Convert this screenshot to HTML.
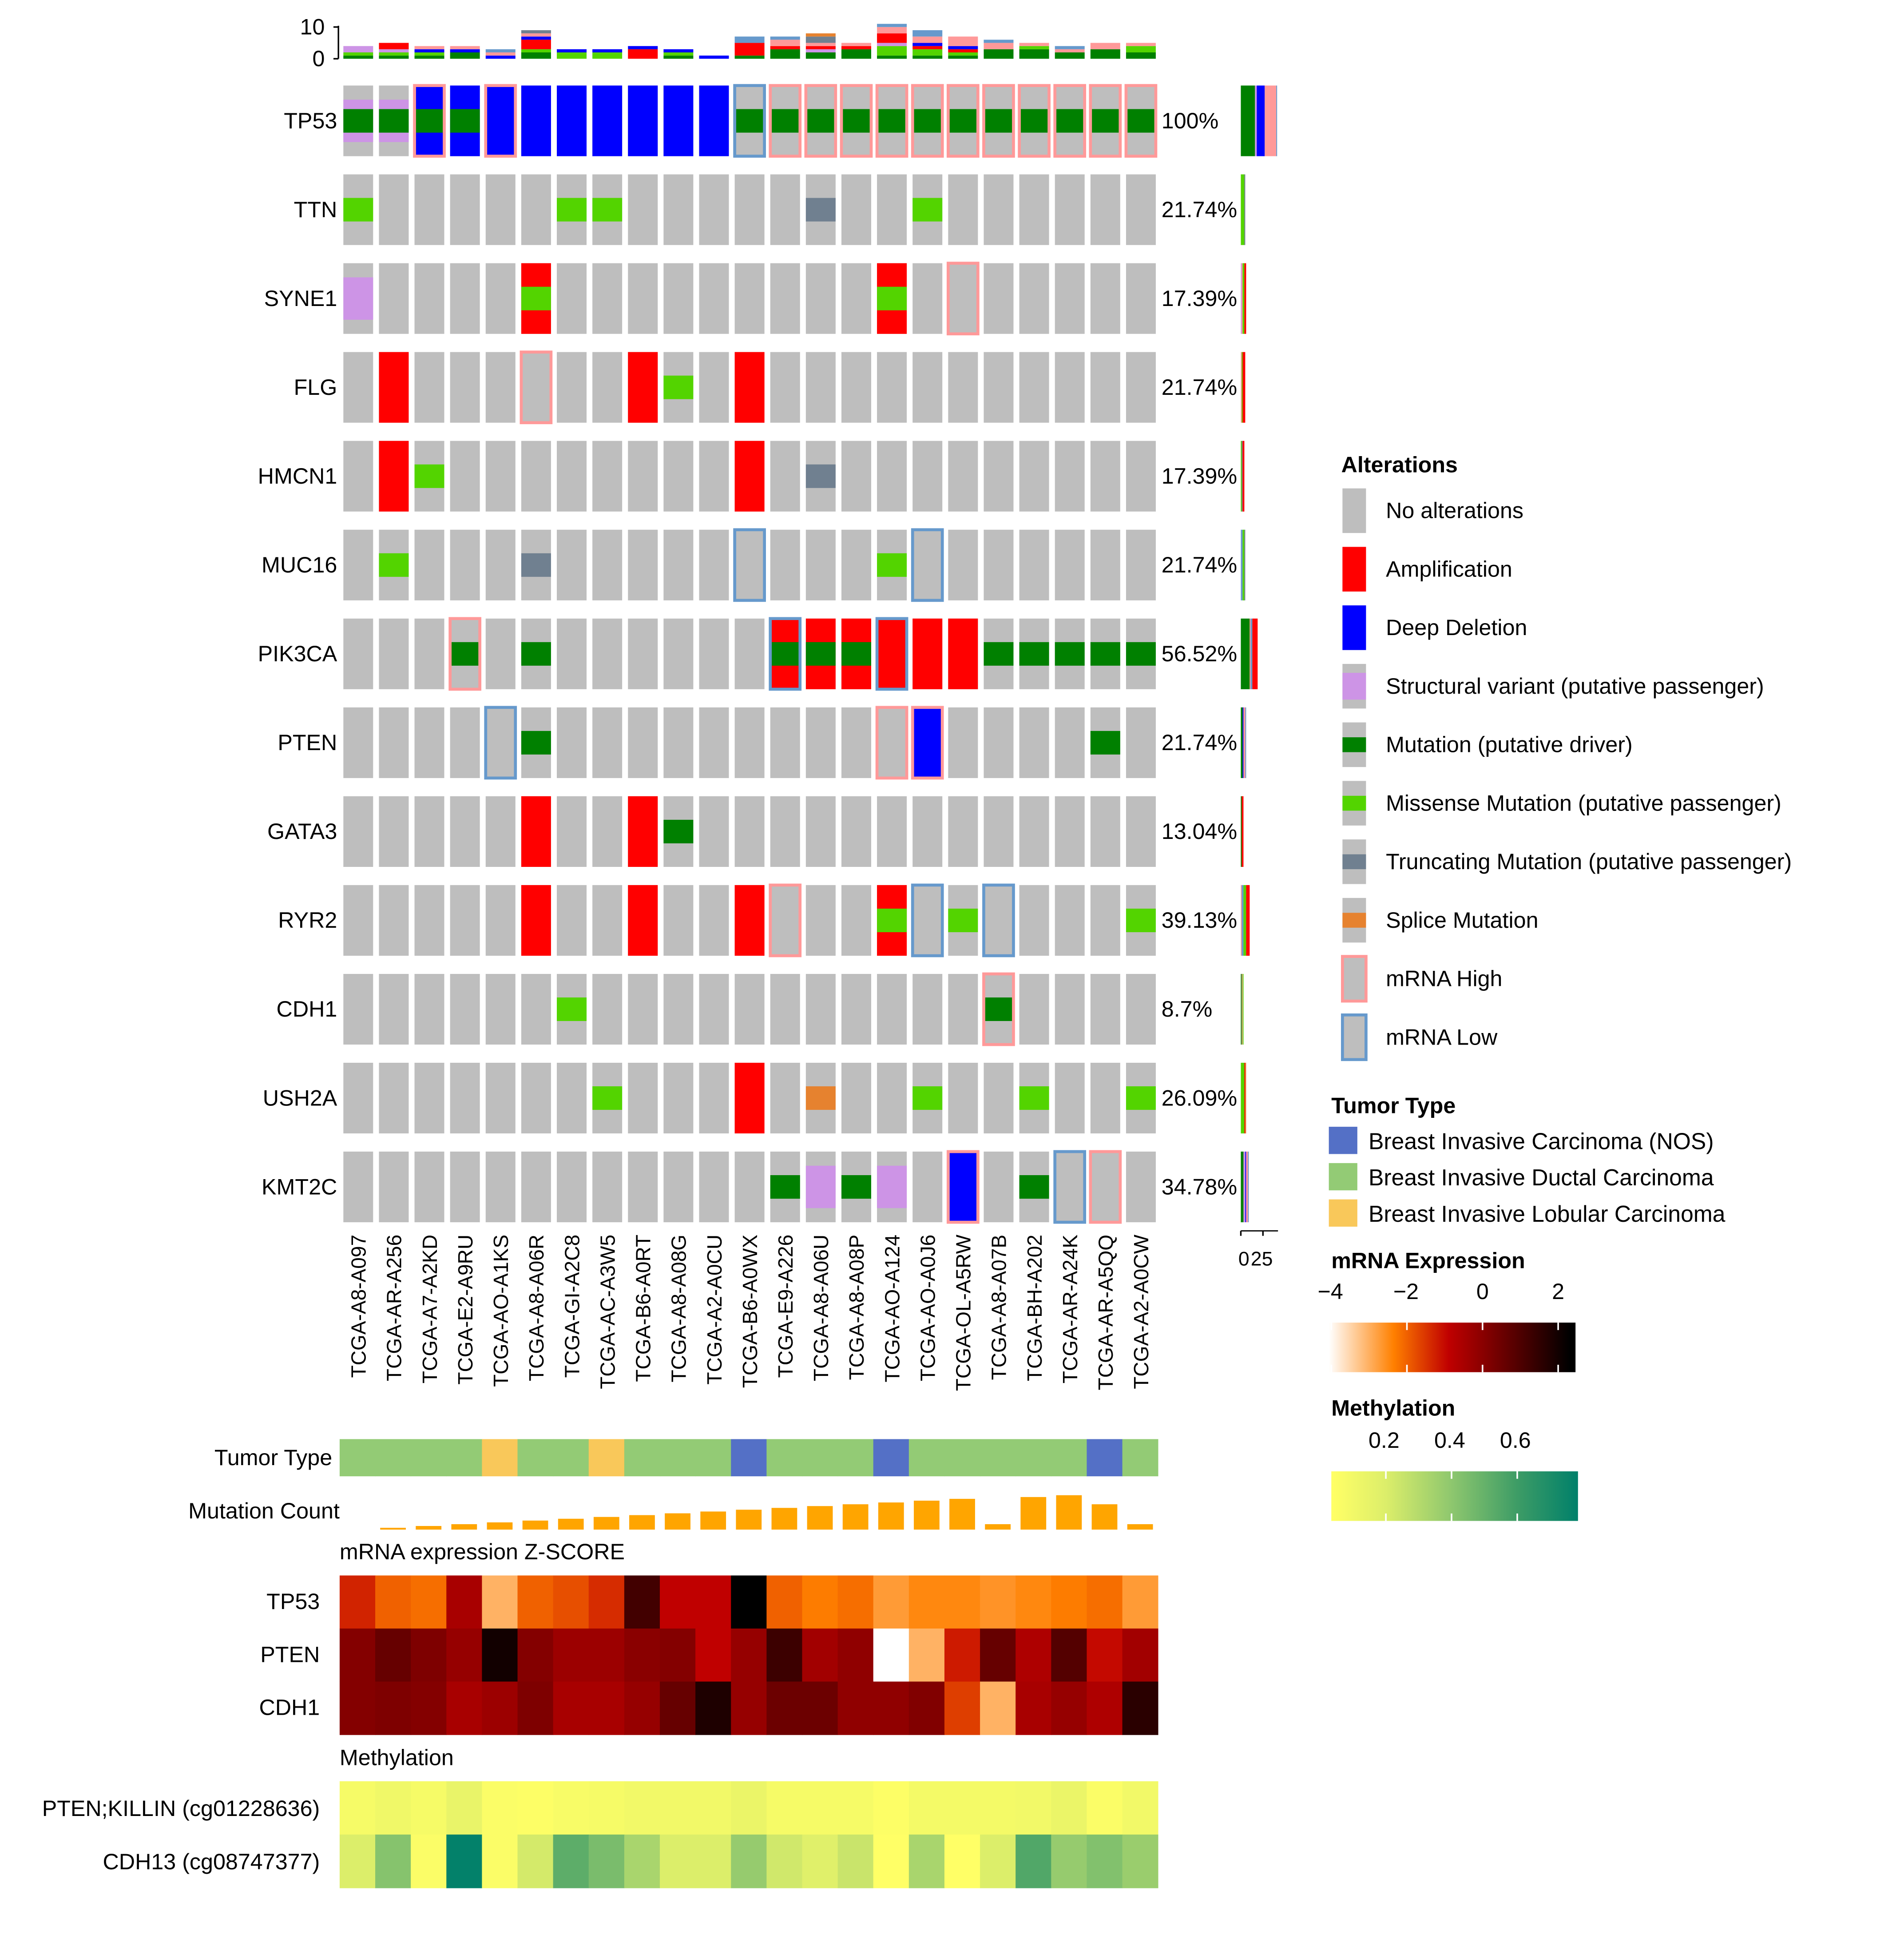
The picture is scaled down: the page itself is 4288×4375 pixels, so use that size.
<!DOCTYPE html>
<html><head><meta charset="utf-8"><style>
html,body{margin:0;padding:0;background:#fff}
svg{display:block}
text{font-family:"Liberation Sans",sans-serif;fill:#000}
</style></head><body>
<svg id="chart" xmlns="http://www.w3.org/2000/svg" width="4288" height="4375" viewBox="0 0 1536 1567.5" preserveAspectRatio="none">
<g id="topbars"></g><g id="gridg"></g><g id="rightbars"></g><g id="samplesg"></g><g id="tracksg"></g><g id="legendg"></g>
</svg>
<script>
const samples=["TCGA-A8-A097","TCGA-AR-A256","TCGA-A7-A2KD","TCGA-E2-A9RU","TCGA-AO-A1KS","TCGA-A8-A06R","TCGA-GI-A2C8","TCGA-AC-A3W5","TCGA-B6-A0RT","TCGA-A8-A08G","TCGA-A2-A0CU","TCGA-B6-A0WX","TCGA-E9-A226","TCGA-A8-A06U","TCGA-A8-A08P","TCGA-AO-A124","TCGA-AO-A0J6","TCGA-OL-A5RW","TCGA-A8-A07B","TCGA-BH-A202","TCGA-AR-A24K","TCGA-AR-A5QQ","TCGA-A2-A0CW"];
const genes=["TP53","TTN","SYNE1","FLG","HMCN1","MUC16","PIK3CA","PTEN","GATA3","RYR2","CDH1","USH2A","KMT2C"];
const percents=["100%","21.74%","17.39%","21.74%","17.39%","21.74%","56.52%","21.74%","13.04%","39.13%","8.7%","26.09%","34.78%"];
const alterations=[
["sv+mut","sv+mut","del+mut+high","del+mut","del+high","del","del","del","del","del","del","mut+low","mut+high","mut+high","mut+high","mut+high","mut+high","mut+high","mut+high","mut+high","mut+high","mut+high","mut+high"],
["miss","","","","","","miss","miss","","","","","","trunc","","","miss","","","","","",""],
["sv","","","","","amp+miss","","","","","","","","","","amp+miss","","high","","","","",""],
["","amp","","","","high","","","amp","miss","","amp","","","","","","","","","","",""],
["","amp","miss","","","","","","","","","amp","","trunc","","","","","","","","",""],
["","miss","","","","trunc","","","","","","low","","","","miss","low","","","","","",""],
["","","","mut+high","","mut","","","","","","","amp+mut+low","amp+mut","amp+mut","amp+low","amp","amp","mut","mut","mut","mut","mut"],
["","","","","low","mut","","","","","","","","","","high","del+high","","","","","mut",""],
["","","","","","amp","","","amp","mut","","","","","","","","","","","","",""],
["","","","","","amp","","","amp","","","amp","high","","","amp+miss","low","miss","low","","","","miss"],
["","","","","","","miss","","","","","","","","","","","","mut+high","","","",""],
["","","","","","","","miss","","","","amp","","splice","","","miss","","","miss","","","miss"],
["","","","","","","","","","","","","mut","sv","mut","sv","","del+high","","mut","low","high",""]];
const tumorType=["D","D","D","D","L","D","D","L","D","D","D","N","D","D","D","N","D","D","D","D","D","N","D"];
const mutationCount=[0,1,2,3,4,5,6,7,8,9,10,11,12,13,14,15,16,17,3,18,19,14,3];
const mrnaGenes=["TP53","PTEN","CDH1"];
const mrnaTP53=[-1.3,-2.0,-2.15,-0.5,-3.0,-2.0,-1.8,-1.4,1.2,-0.9,-0.9,2.5,-2.0,-2.3,-2.15,-2.7,-2.45,-2.45,-2.6,-2.45,-2.3,-2.15,-2.7];
const mrnaPTEN=[0.1,0.6,0.2,-0.2,2.0,0.1,-0.3,-0.3,0,0.1,-0.9,-0.2,1.3,-0.4,-0.1,-4,-3.0,-1.2,0.6,-0.6,0.9,-1.0,-0.4];
const mrnaCDH1=[0.1,0.2,0.1,-0.5,-0.3,0.2,-0.5,-0.5,-0.2,0.6,1.8,-0.2,0.5,0.5,-0.1,-0.1,0.15,-1.6,-3.0,-0.5,-0.2,-0.6,1.6];
const methLabels=["PTEN;KILLIN (cg01228636)","CDH13 (cg08747377)"];
const methPTEN=[0.08,0.11,0.08,0.14,0.06,0.05,0.07,0.08,0.1,0.1,0.1,0.13,0.08,0.08,0.08,0.05,0.09,0.09,0.09,0.1,0.13,0.06,0.1];
const methCDH13=[0.2,0.42,0.06,0.78,0.06,0.22,0.52,0.45,0.33,0.2,0.2,0.38,0.23,0.18,0.25,0.04,0.33,0.04,0.2,0.55,0.38,0.43,0.37];

const NS="http://www.w3.org/2000/svg";
const C={none:"#bebebe",amp:"#ff0000",del:"#0000ff",sv:"#cd94e6",mut:"#008000",miss:"#53d400",trunc:"#708090",splice:"#e6822f",high:"#ff9999",low:"#6699cc"};
const TC={N:"#5470c6",D:"#93cb75",L:"#f9c85a"};
function el(tag,attrs,parent,txt){const e=document.createElementNS(NS,tag);for(const k in attrs)e.setAttribute(k,attrs[k]);if(txt!==undefined)e.textContent=txt;parent.appendChild(e);return e;}
const colX=i=>277+i*28.7, cellW=24;
const rowY=r=>69+r*71.67, cellH=57;
const hmX=i=>274+i*28.7, hmW=28.7;
function hex(h){return [1,3,5].map(i=>parseInt(h.substr(i,2),16));}
function interp(stops,v){if(v<=stops[0][0])return stops[0][1];for(let i=1;i<stops.length;i++){if(v<=stops[i][0]){const a=hex(stops[i-1][1]),b=hex(stops[i][1]),t=(v-stops[i-1][0])/(stops[i][0]-stops[i-1][0]);return "rgb("+a.map((x,j)=>Math.round(x+(b[j]-x)*t)).join(",")+")";}}return stops[stops.length-1][1];}
const mrnaStops=[[-4,"#ffffff"],[-2.35,"#ff8000"],[-0.9,"#c00000"],[2.3,"#000000"]];
const methStops=[[0.04,"#ffff66"],[0.2,"#dcee6a"],[0.4,"#8ec76e"],[0.6,"#3d9c66"],[0.79,"#00806a"]];

function drawCell(g,x,y,w,h,types){
  el("rect",{x:x,y:y,width:w,height:h,fill:C.none},g);
  if(types.includes("amp"))el("rect",{x:x,y:y,width:w,height:h,fill:C.amp},g);
  if(types.includes("del"))el("rect",{x:x,y:y,width:w,height:h,fill:C.del},g);
  if(types.includes("sv"))el("rect",{x:x,y:y+h*0.2,width:w,height:h*0.6,fill:C.sv},g);
  ["mut","miss","trunc","splice"].forEach(t=>{if(types.includes(t))el("rect",{x:x,y:y+h/3,width:w,height:h/3,fill:C[t]},g);});
  if(types.includes("high"))el("rect",{x:x,y:y,width:w,height:h,fill:"none",stroke:C.high,"stroke-width":2.4},g);
  if(types.includes("low"))el("rect",{x:x,y:y,width:w,height:h,fill:"none",stroke:C.low,"stroke-width":2.4},g);
}

const gridG=document.getElementById("gridg");
genes.forEach((gname,r)=>{
  const gl=el("text",{x:272,y:rowY(r)+cellH/2+6,"text-anchor":"end","font-size":18},gridG,gname);
  
  
  const pl=el("text",{x:937,y:rowY(r)+cellH/2+6,"font-size":18},gridG,percents[r]);
  
  
  alterations[r].forEach((a,i)=>{
    const g=el("g",{},gridG);
    
    
    drawCell(g,colX(i),rowY(r),cellW,cellH,a?a.split("+"):[]);
  });
});

const topG=document.getElementById("topbars");
const topOrder=["mut","miss","sv","amp","del","high","low","trunc","splice"];
const unitTop=2.56, baseTop=47.4;
el("line",{x1:273,y1:20.8,x2:273,y2:baseTop,stroke:"#000","stroke-width":1.2},topG);
[0,10].forEach(v=>{const y=baseTop-v*unitTop;el("line",{x1:269,y1:y,x2:273,y2:y,stroke:"#000","stroke-width":1.2},topG);
  const t=el("text",{x:262,y:y+6,"text-anchor":"end","font-size":18},topG,String(v));
  
  });
samples.forEach((s,i)=>{
  const cnt={};topOrder.forEach(t=>cnt[t]=0);
  alterations.forEach(row=>{(row[i]?row[i].split("+"):[]).forEach(t=>cnt[t]++);});
  let y=baseTop;
  topOrder.forEach(t=>{if(cnt[t]){const h=cnt[t]*unitTop;y-=h;
    const b=el("rect",{x:colX(i),y:y,width:cellW,height:h,fill:C[t]},topG);
    
    }});
});

const rightG=document.getElementById("rightbars");
const rightOrder=["mut","sv","del","high","low","miss","trunc","amp","splice"];
const unitR=0.714, rx0=1001;
genes.forEach((gname,r)=>{
  const cnt={};rightOrder.forEach(t=>cnt[t]=0);
  alterations[r].forEach(a=>(a?a.split("+"):[]).forEach(t=>cnt[t]++));
  let x=rx0;
  rightOrder.forEach(t=>{if(cnt[t]){const w=cnt[t]*unitR;
    const b=el("rect",{x:x,y:rowY(r),width:w,height:cellH,fill:C[t]},rightG);
    
    x+=w;}});
});
el("line",{x1:rx0,y1:993,x2:1031,y2:993,stroke:"#000","stroke-width":1},rightG);
[0,25].forEach(v=>{const x=rx0+v*unitR;el("line",{x1:x,y1:993,x2:x,y2:997,stroke:"#000","stroke-width":1.2},rightG);});
const r0=el("text",{x:999,y:1021,"font-size":16},rightG,"0");
const r25=el("text",{x:1009,y:1021,"font-size":16},rightG,"25");

const sampG=document.getElementById("samplesg");
samples.forEach((s,i)=>{const cx=colX(i)+cellW/2+6;
  const t=el("text",{x:0,y:0,"font-size":16.5,"text-anchor":"end",transform:`translate(${cx},996) rotate(-90)`},sampG,s);
  
  });

const trG=document.getElementById("tracksg");
function label(x,y,txt,anchor,name){const t=el("text",{x:x,y:y,"font-size":18,"text-anchor":anchor},trG,txt);}
label(268,1182,"Tumor Type","end","tumor-type-label");
tumorType.forEach((t,i)=>{const r=el("rect",{x:hmX(i),y:1161,width:hmW+0.3,height:30,fill:TC[t]},trG);
  });
label(274,1225,"Mutation Count","end","mutation-count-label");
const mcBase=1234, mcUnit=1.46;
mutationCount.forEach((v,i)=>{if(v>0){const h=v*mcUnit;const r=el("rect",{x:hmX(i)+4,y:mcBase-h,width:hmW-8,height:h,fill:"#ffa500"},trG);
  }});
label(274,1258,"mRNA expression Z-SCORE","start","mrna-section-title");
[mrnaTP53,mrnaPTEN,mrnaCDH1].forEach((arr,r)=>{const y=1271+r*42.8;
  label(258,y+27,mrnaGenes[r],"end","mrna-row-label-"+mrnaGenes[r].toLowerCase());
  arr.forEach((v,i)=>{const c=el("rect",{x:hmX(i),y:y,width:hmW+0.3,height:43.1,fill:interp(mrnaStops,v)},trG);
    });});
label(274,1424,"Methylation","start","methylation-section-title");
[methPTEN,methCDH13].forEach((arr,r)=>{const y=1437+r*43;
  label(258,y+28,methLabels[r],"end","methylation-row-label-"+(r+1));
  arr.forEach((v,i)=>{const c=el("rect",{x:hmX(i),y:y,width:hmW+0.3,height:43.3,fill:interp(methStops,v)},trG);
    });});

const lgG=document.getElementById("legendg");
function ltext(x,y,txt,bold,name,size){const t=el("text",{x:x,y:y,"font-size":size||18,"font-weight":bold?"bold":"normal"},lgG,txt);}
ltext(1082,381,"Alterations",true,"alterations-legend-title");
const legItems=[["No alterations",[]],["Amplification",["amp"]],["Deep Deletion",["del"]],["Structural variant (putative passenger)",["sv"]],["Mutation (putative driver)",["mut"]],["Missense Mutation (putative passenger)",["miss"]],["Truncating Mutation (putative passenger)",["trunc"]],["Splice Mutation",["splice"]],["mRNA High",["high"]],["mRNA Low",["low"]]];
legItems.forEach((it,k)=>{const cy=412+k*47.2;const g=el("g",{},lgG);
  
  
  drawCell(g,1083,cy-18,19,36,it[1]);
  el("text",{x:1118,y:cy+6,"font-size":18},g,it[0]);});
ltext(1074,898,"Tumor Type",true,"tumor-type-legend-title");
[["N","Breast Invasive Carcinoma (NOS)"],["D","Breast Invasive Ductal Carcinoma"],["L","Breast Invasive Lobular Carcinoma"]].forEach((it,k)=>{const cy=920+k*29.3;
  const g=el("g",{},lgG);
  el("rect",{x:1072,y:cy-11,width:23,height:22,fill:TC[it[0]]},g);
  el("text",{x:1104,y:cy+7,"font-size":18.5},g,it[1]);});
ltext(1074,1023,"mRNA Expression",true,"mrna-legend-title");
const defs=el("defs",{},lgG);
const gradM=el("linearGradient",{id:"gm",x1:0,x2:1,y1:0,y2:0},defs);
const mx=v=>1074+(v+4)*30.5;
[[-4.1,"#ffffff"],[-2.35,"#ff8000"],[-0.9,"#c00000"],[2.3,"#000000"],[2.5,"#000000"]].forEach(s=>el("stop",{offset:Math.max(0,Math.min(1,(mx(s[0])-1072)/199)),"stop-color":s[1]},gradM));
el("rect",{x:1072,y:1067,width:199,height:40,fill:"url(#gm)"},lgG);
[-4,-2,0,2].forEach(v=>{const x=mx(v);el("line",{x1:x,y1:1067,x2:x,y2:1073,stroke:"#fff","stroke-width":1.3},lgG);el("line",{x1:x,y1:1101,x2:x,y2:1107,stroke:"#fff","stroke-width":1.3},lgG);
  ltext(x-(v<0?11:5),1048,v<0?"−"+(-v):String(v),false,"mrna-legend-tick-"+v,18);});
ltext(1074,1142,"Methylation",true,"methylation-legend-title");
const gradY=el("linearGradient",{id:"gy",x1:0,x2:1,y1:0,y2:0},defs);
const yx=v=>1118+(v-0.2)*265;
methStops.forEach(s=>el("stop",{offset:Math.max(0,Math.min(1,(yx(s[0])-1074)/199)),"stop-color":s[1]},gradY));
el("rect",{x:1074,y:1187,width:199,height:40,fill:"url(#gy)"},lgG);
[0.2,0.4,0.6].forEach(v=>{const x=yx(v);el("line",{x1:x,y1:1187,x2:x,y2:1193,stroke:"#fff","stroke-width":1.3},lgG);el("line",{x1:x,y1:1221,x2:x,y2:1227,stroke:"#fff","stroke-width":1.3},lgG);
  ltext(x-14,1168,String(v),false,"methylation-legend-tick-"+v,18);});
</script>
</body></html>
